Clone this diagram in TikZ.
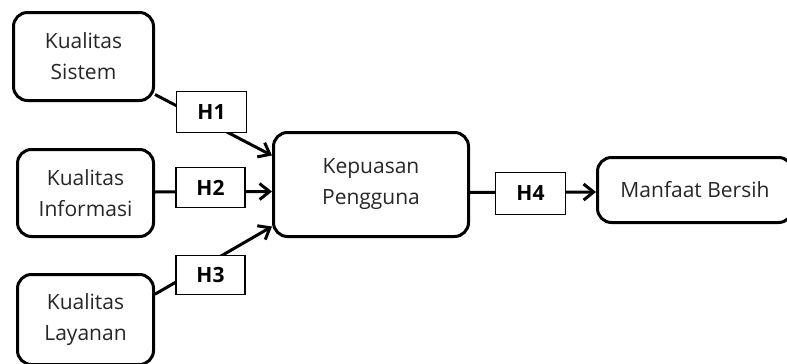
\documentclass[tikz,border=0pt]{standalone}
\usepackage{fontspec}
\setmainfont{Open Sans}
\usetikzlibrary{arrows.meta}
\tikzset{
  var node/.style={
    rounded corners=14pt,
    draw,
    line width=3pt,
    inner sep=0pt,
    align=center,
    text=black!85,
    font=\fontsize{21}{31}\selectfont,
  },
  hyp node/.style={
    draw,
    line width=1.3pt,
    fill=white,
    inner sep=0pt,
    minimum width=69pt,
    minimum height=40pt,
    font=\fontsize{21}{25}\selectfont\bfseries,
  },
  path line/.style={
    line width=3pt,
    -{Straight Barb[length=10pt,width=16pt]},
  },
}

\begin{document}
\begin{tikzpicture}[x=1pt, y=-1pt]
      \useasboundingbox (0,0) rectangle (787,364);

      \node[var node, minimum width=140pt, minimum height=88pt] (ks) at (83.5,56.5) {Kualitas\\Sistem};
      \node[var node, minimum width=136pt, minimum height=87pt] (ki) at (85.5,193) {Kualitas\\Informasi};
      \node[var node, minimum width=136pt, minimum height=90pt] (kl) at (85.5,319.5) {Kualitas\\Layanan};
      \node[var node, minimum width=195pt, minimum height=104pt] (kp) at (371,184.5) {Kepuasan\\Pengguna};
      \node[var node, minimum width=195pt, minimum height=65pt] (mb) at (695,190) {Manfaat Bersih};

      \draw[path line] (ks.-28) -- ([yshift=29pt]kp.west);
      \draw[path line] ([yshift=1pt]ki.east) -- ([yshift=-7pt]kp.west);
      \draw[path line] (kl.20) -- ([yshift=-42pt]kp.west);
      \draw[path line] ([yshift=-8pt]kp.east) -- ([yshift=-2pt]mb.west);

      \node[hyp node, minimum width=70pt, minimum height=41pt] (h1) at (211.5,112) {H1};
      \node[hyp node] (h2) at (210.5,187.5) {H2};
      \node[hyp node, minimum height=39pt] (h3) at (210.5,275) {H3};
      \node[hyp node, minimum width=70pt, minimum height=42pt] (h4) at (530.5,193.5) {H4};
    \end{tikzpicture}
\end{document}
